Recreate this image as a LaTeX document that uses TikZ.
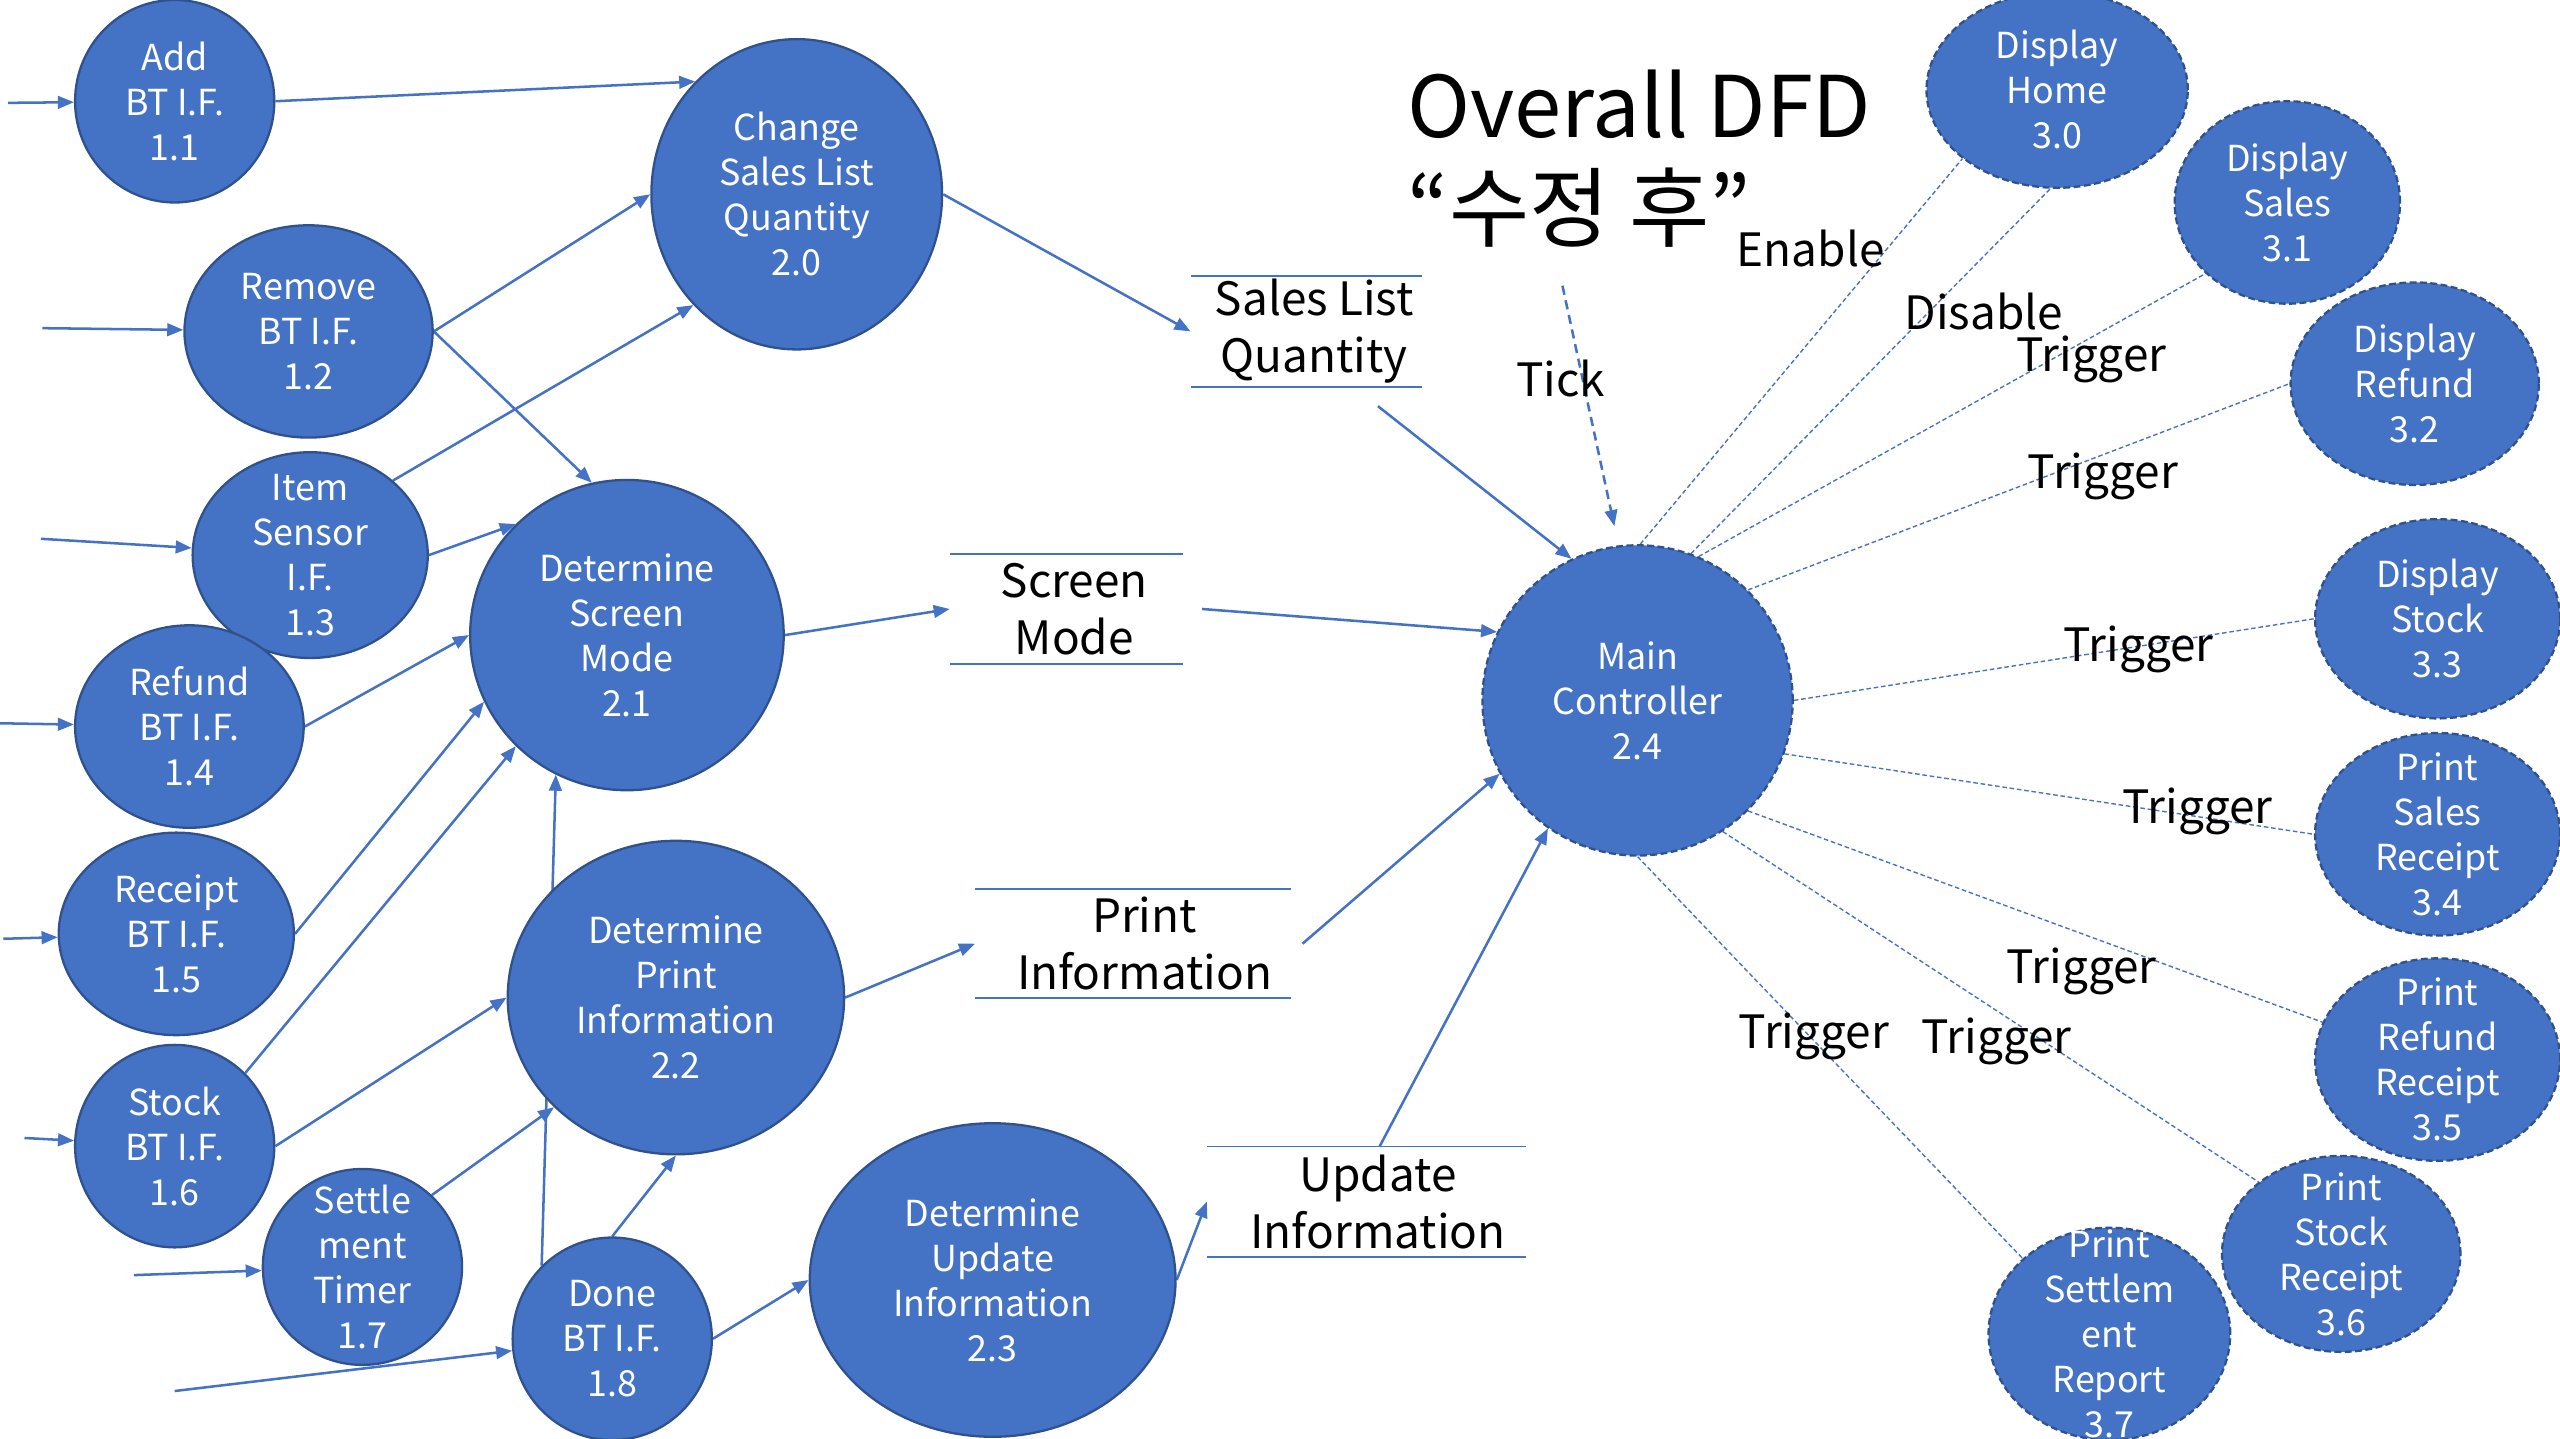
\documentclass[tikz,border=0pt]{standalone}
\usepackage{fontspec}
\setmainfont{Noto Sans CJK KR}
\usetikzlibrary{shapes.geometric,arrows.meta,backgrounds}
\definecolor{dfdblue}{HTML}{4472C4}
\definecolor{dfdedge}{HTML}{2F528F}
\begin{document}
\begin{tikzpicture}[x=0.025cm,y=-0.025cm,
  proc/.style={ellipse,fill=dfdblue,draw=dfdedge,line width=1pt,inner sep=0pt},
  ctrl/.style={proc,dash pattern=on 3pt off 1.5pt},
  ptext/.style={text=white,align=center,inner sep=0pt,font=\fontsize{15.6pt}{19.6pt}\selectfont},
  store/.style={align=center,inner sep=0pt,font=\fontsize{20pt}{24.9pt}\selectfont},
  storeline/.style={draw=dfdblue,line width=0.8pt},
  flow/.style={draw=dfdblue,line width=1.1pt,-{Triangle[length=7pt,width=5.5pt]}},
  tickflow/.style={flow,dash pattern=on 4pt off 2.5pt},
  ctl/.style={draw=dfdblue,line width=0.6pt,dash pattern=on 2pt off 1.2pt},
  lbl/.style={inner sep=0pt,font=\fontsize{20pt}{24.9pt}\selectfont},
  title/.style={inner sep=0pt,anchor=west,font=\fontsize{37pt}{44pt}\selectfont}]
\useasboundingbox (0,0) rectangle (1568,881);
\node[title] (t1) at (862,64) {Overall DFD};
\node[title,font=\fontsize{38pt}{44pt}\selectfont] (t2) at (862,127) {“수정 후”};
\node[proc,minimum width=3.05cm,minimum height=3.1cm,label={[ptext]center:{Add\\BT I.F.\\1.1}}] (a11) at (107,62) {};
\node[proc,minimum width=3.8cm,minimum height=3.25cm,label={[ptext]center:{Remove\\BT I.F.\\1.2}}] (a12) at (189,203) {};
\node[proc,minimum width=3.6cm,minimum height=3.15cm,label={[ptext]center:{Item\\Sensor\\I.F.\\1.3}}] (a13) at (190,340) {};
\node[proc,minimum width=3.5cm,minimum height=3.1cm,label={[ptext]center:{Refund\\BT I.F.\\1.4}}] (a14) at (116,445) {};
\node[proc,minimum width=3.6cm,minimum height=3.1cm,label={[ptext]center:{Receipt\\BT I.F.\\1.5}}] (a15) at (108,572) {};
\node[proc,minimum width=3.05cm,minimum height=3.1cm,label={[ptext]center:{Stock\\BT I.F.\\1.6}}] (a16) at (107,702) {};
\node[proc,minimum width=3.05cm,minimum height=3cm,label={[ptext]center:{Settle\\ment\\Timer\\1.7}}] (a17) at (222,776) {};
\node[proc,minimum width=3.05cm,minimum height=3.1cm,label={[ptext]center:{Done\\BT I.F.\\1.8}}] (a18) at (375,820) {};
\node[proc,minimum width=4.45cm,minimum height=4.75cm,label={[ptext]center:{Change\\Sales List\\Quantity\\2.0}}] (a20) at (488,119) {};
\node[proc,minimum width=4.8cm,minimum height=4.75cm,label={[ptext]center:{Determine\\Screen\\Mode\\2.1}}] (a21) at (384,389) {};
\node[proc,minimum width=5.15cm,minimum height=4.8cm,label={[ptext]center:{Determine\\Print\\Information\\2.2}}] (a22) at (414,611) {};
\node[proc,minimum width=5.6cm,minimum height=4.8cm,label={[ptext]center:{Determine\\Update\\Information\\2.3}}] (a23) at (608,784) {};
\node[ctrl,minimum width=4.75cm,minimum height=4.75cm,label={[ptext]center:{Main\\Controller\\2.4}}] (a24) at (1003,429) {};
\node[ctrl,minimum width=4cm,minimum height=3cm,label={[ptext]center:{Display\\Home\\3.0}}] (b30) at (1260,55) {};
\node[ctrl,minimum width=3.45cm,minimum height=3.1cm,label={[ptext]center:{Display\\Sales\\3.1}}] (b31) at (1401,124) {};
\node[ctrl,minimum width=3.8cm,minimum height=3.1cm,label={[ptext]center:{Display\\Refund\\3.2}}] (b32) at (1479,235) {};
\node[ctrl,minimum width=3.75cm,minimum height=3.05cm,label={[ptext]center:{Display\\Stock\\3.3}}] (b33) at (1493,379) {};
\node[ctrl,minimum width=3.75cm,minimum height=3.1cm,label={[ptext]center:{Print\\Sales\\Receipt\\3.4}}] (b34) at (1493,511) {};
\node[ctrl,minimum width=3.75cm,minimum height=3.1cm,label={[ptext]center:{Print\\Refund\\Receipt\\3.5}}] (b35) at (1493,649) {};
\node[ctrl,minimum width=3.65cm,minimum height=3cm,label={[ptext]center:{Print\\Stock\\Receipt\\3.6}}] (b36) at (1434,768) {};
\node[ctrl,minimum width=3.7cm,minimum height=3.25cm,label={[ptext]center:{Print\\Settlem\\ent\\Report\\3.7}}] (b37) at (1292,817) {};
\node[store,minimum width=3.525cm,minimum height=1.675cm] (sq) at (800,203) {\hspace{.25cm}Sales List\\\hspace{.25cm}Quantity};
\node[store,minimum width=3.55cm,minimum height=1.675cm] (sm) at (653,373) {\hspace{.25cm}Screen\\\hspace{.25cm}Mode};
\node[store,minimum width=4.825cm,minimum height=1.65cm] (pi) at (694,578) {\hspace{.35cm}Print\\\hspace{.35cm}Information};
\node[store,minimum width=4.875cm,minimum height=1.675cm] (ui) at (837,736) {\hspace{.35cm}Update\\\hspace{.35cm}Information};
\draw[storeline] (sq.north west) -- (sq.north east) (sq.south west) -- (sq.south east);
\draw[storeline] (sm.north west) -- (sm.north east) (sm.south west) -- (sm.south east);
\draw[storeline] (pi.north west) -- (pi.north east) (pi.south west) -- (pi.south east);
\draw[storeline] (ui.north west) -- (ui.north east) (ui.south west) -- (ui.south east);
\node[lbl] (en) at (1109,152) {Enable};
\node[lbl] (tk) at (956,232) {Tick};
\node[lbl] (dis) at (1215,191) {Disable};
\node[lbl] (tr1) at (1281,220) {Trigger};
\node[lbl] (tr2) at (1288,292) {Trigger};
\node[lbl] (tr3) at (1310,398) {Trigger};
\node[lbl] (tr4) at (1346,497) {Trigger};
\node[lbl] (tr5) at (1275,595) {Trigger};
\node[lbl] (tr6) at (1111,635) {Trigger};
\node[lbl] (tr7) at (1223,638) {Trigger};
\coordinate (i11) at (5,63);
\coordinate (i12) at (26,201);
\coordinate (i13) at (25,330);
\coordinate (i14) at (0,443);
\coordinate (i15) at (2,575);
\coordinate (i16) at (15,697);
\coordinate (i17) at (82,781);
\coordinate (i18) at (107,852);
\coordinate (itk) at (957,175);
\begin{scope}[on background layer]
\draw[flow] (i11) -- (a11);
\draw[flow] (i12) -- (a12);
\draw[flow] (i13) -- (a13);
\draw[flow] (i14) -- (a14);
\draw[flow] (i15) -- (a15);
\draw[flow] (i16) -- (a16);
\draw[flow] (i17) -- (a17);
\draw[flow] (i18) -- (a18);
\draw[flow] (a11.east) -- (a20.132);
\draw[flow] (a12.east) -- (a20.west);
\draw[flow] (a12.east) -- (a21.103);
\draw[flow] (a13.42) -- (a20.227);
\draw[flow] (a13.east) -- (a21.135);
\draw[flow] (a14.east) -- (a21.west);
\draw[flow] (a15.east) -- (a21.205);
\draw[flow] (a16.46) -- (a21.225);
\draw[flow] (a16.east) -- (a22.west);
\draw[flow] (a17.46) -- (a22.222);
\draw[flow] (a18.134) -- (a21.243);
\draw[flow] (a18.north) -- (a22.south);
\draw[flow] (a18.east) -- (a23.west);
\draw[flow] (a20.east) -- (sq.west);
\draw[flow] (a21.east) -- (sm.west);
\draw[flow] (a22.east) -- (pi.west);
\draw[flow] (a23.east) -- (ui.west);
\draw[flow] ([xshift=1.1cm,yshift=-.3cm]sq.south) -- (a24.115);
\draw[flow] ([xshift=.3cm]sm.east) -- (a24.154);
\draw[flow] ([xshift=.175cm]pi.east) -- (a24.208);
\draw[flow] ([xshift=.2cm]ui.north) -- (a24.235);
\draw[tickflow,shorten >=.3cm] (itk) -- (a24.97);
\draw[ctl] (a24.89) -- (b30.216);
\draw[ctl] (a24.70) -- (b30.266);
\draw[ctl] (a24.67) -- (b31.221);
\draw[ctl] (a24.45) -- (b32.west);
\draw[ctl] (a24.east) -- (b33.west);
\draw[ctl] (a24.340) -- (b34.west);
\draw[ctl] (a24.315) -- (b35.162);
\draw[ctl] (a24.303) -- (b36.139);
\draw[ctl] (a24.south) -- (b37.139);
\end{scope}
\end{tikzpicture}
\end{document}
